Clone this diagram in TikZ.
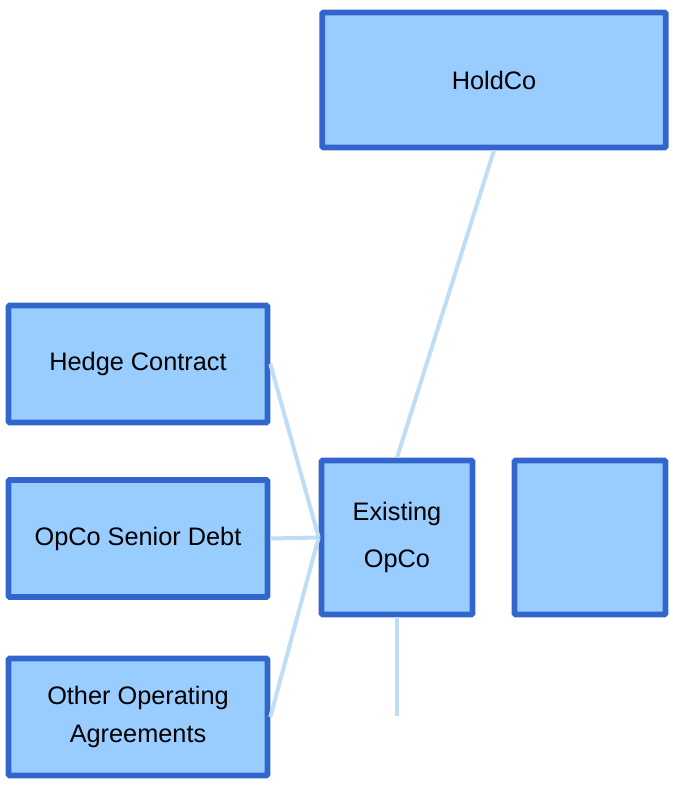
\documentclass[tikz,border=0pt]{standalone}
\usepackage{fontspec}
\setmainfont{Liberation Sans}
\usepackage{tikz}

\definecolor{boxline}{HTML}{3366CC}
\definecolor{boxfill}{HTML}{99CCFF}
\definecolor{linkcol}{HTML}{C0DDF6}

\tikzset{
    entity/.style={draw=boxline, fill=boxfill, line width=0.17cm, rounded corners=1pt,
        align=center, inner sep=0pt, font=\fontsize{21.6}{32}\selectfont},
    wide/.style={entity, minimum width=10.3cm, minimum height=4.05cm},
    party/.style={entity, minimum width=7.77cm, minimum height=3.51cm},
    opco/.style={entity, minimum width=4.53cm, minimum height=4.62cm},
    link/.style={draw=linkcol, line width=0.12cm}
}

\begin{document}
\begin{tikzpicture}[x=0.03cm, y=-0.03cm]
    \useasboundingbox (0,0) rectangle (672,786);
    % Draw the boxes
    \node[wide] (holdco) at (494,80) {HoldCo};
    \node[party] (hedge) at (138,364) {Hedge Contract};
    \node[party] (debt) at (138,538.5) {OpCo Senior Debt};
    \node[party] (other) at (138,717) {Other Operating\\Agreements};
    \node[opco, font=\fontsize{21.6}{40}\selectfont] (opco) at (397,537.5) {Existing\\OpCo};
    \node[opco] (blank) at (590,537.5) {};
    % Draw the links
    \coordinate (tail) at (397,716);
    \draw[link] (holdco.south) -- (opco.north);
    \draw[link] (hedge.east) -- (opco.west);
    \draw[link] (debt.east) -- (opco.west);
    \draw[link] (other.east) -- (opco.west);
    \draw[link] (opco.south) -- (tail);
\end{tikzpicture}
\end{document}
